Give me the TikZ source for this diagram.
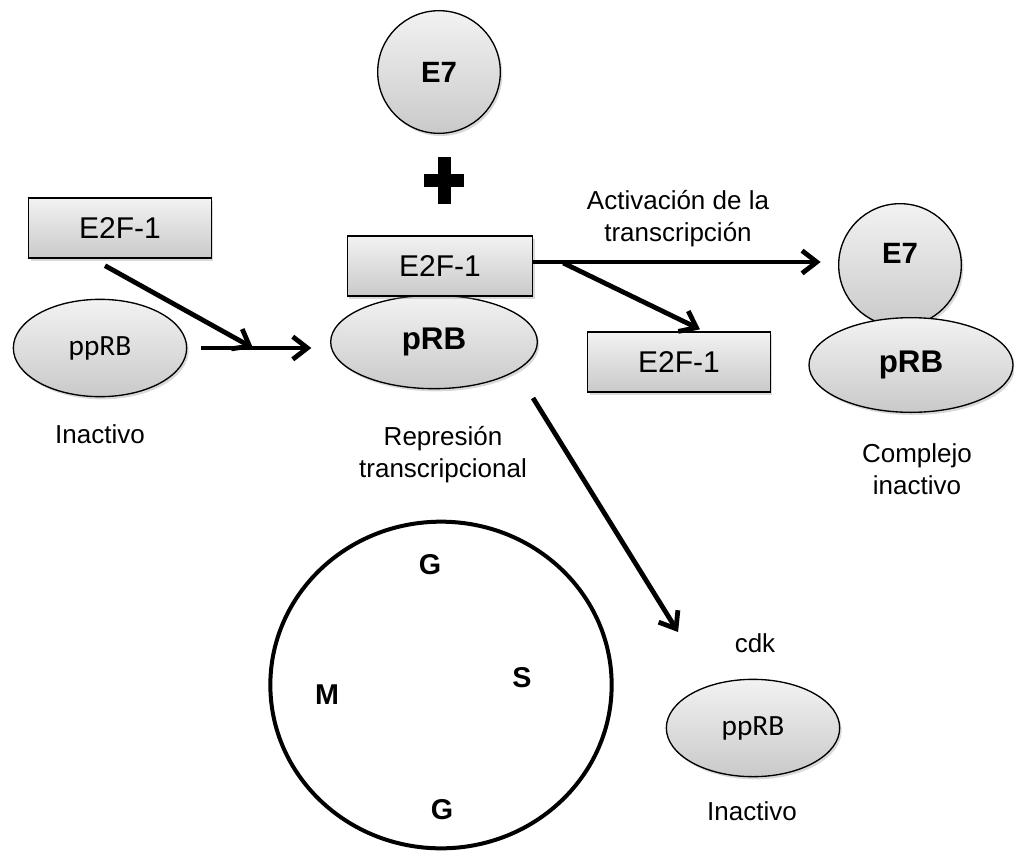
\documentclass[tikz,border=0pt]{standalone}
\usepackage{fontspec}
\setmainfont{Liberation Sans}
\newfontfamily\ppfont{Carlito}
\usetikzlibrary{shapes,arrows.meta,shadows,calc}
\tikzstyle{protbox} = [rectangle, draw, line width=1pt, top color=gray!10, bottom color=gray!42,
    minimum width=137pt, minimum height=45pt, inner sep=0pt,
    drop shadow={shadow xshift=1.5pt, shadow yshift=-2pt, opacity=0.3},
    font=\fontsize{22.5}{26}\selectfont]
\tikzstyle{prot} = [ellipse, draw, line width=1pt, top color=gray!10, bottom color=gray!42,
    inner sep=0pt, drop shadow={shadow xshift=1.5pt, shadow yshift=-2pt, opacity=0.3}]
\tikzstyle{arrow} = [draw, -{Straight Barb[length=11pt,width=17pt]}, line width=3.6pt]
\tikzstyle{lbl} = [font=\fontsize{19.5}{24}\selectfont, align=center]
\tikzstyle{phase} = [font=\bfseries\fontsize{21.5}{24}\selectfont]

\begin{document}
\begin{tikzpicture}[x=0.75pt, y=-0.75pt]
    \useasboundingbox (0,0) rectangle (1014,850);
    % Place nodes
    \node [prot, circle, minimum size=92pt, font=\bfseries\fontsize{22}{24}\selectfont] (E7top) at (439,72) {E7};
    \fill (424,174) rectangle (464,187);
    \fill (437.5,157) rectangle (450.5,204);
%
    \node [protbox] (e2fL) at (120,228) {E2F-1};
    \node [prot, minimum width=130pt, minimum height=73pt, font=\ppfont\fontsize{22}{24}\selectfont] (ppRBL) at (100,348) {ppRB};
    \node [lbl] (inactL) at (100,434) {Inactivo};
    \coordinate (joint) at (253,348);
%
    \node [prot, minimum width=155pt, minimum height=70pt, font=\bfseries\fontsize{23.5}{26}\selectfont] (pRB) at (434,342) {pRB};
    \node [protbox, minimum width=139pt] (e2fC) at (440,266) {E2F-1};
    \node [lbl] (repres) at (443,455) {Represión\\transcripcional};
    \node [lbl] (activ) at (678,219) {Activación de la\\transcripción};
%
    \node [prot, circle, minimum size=92pt, font=\bfseries\fontsize{22}{24}\selectfont, text height=16pt, text depth=18pt] (E7R) at (900,265) {E7};
    \node [prot, minimum width=153pt, minimum height=71pt, font=\bfseries\fontsize{23.5}{26}\selectfont] (pRBR) at (911,365) {pRB};
    \node [lbl] (complejo) at (917,469) {Complejo\\inactivo};
    \node [protbox] (e2fR) at (679,362) {E2F-1};
%
    \node [ellipse, draw, line width=3pt, minimum width=256pt, minimum height=245pt] (cycle) at (441,685) {};
    \node [phase] (G1) at (430,565) {G};
    \node [phase] (S) at (522,678) {S};
    \node [phase] (M) at (327,695) {M};
    \node [phase] (G2) at (442,810) {G};
%
    \node [lbl] (cdk) at (755,643) {cdk};
    \node [prot, minimum width=130pt, minimum height=73pt, font=\ppfont\fontsize{22}{24}\selectfont] (ppRBB) at (753,728) {ppRB};
    \node [lbl] (inactB) at (752,811) {Inactivo};
    % Connectors
    \path [arrow] ($(e2fL.south)+(-15,7)$) -- (joint);
    \path [arrow, shorten <=10pt, shorten >=14pt] (ppRBL.east) -- (ppRBL.east -| pRB.west);
    \path [arrow, shorten >=13pt] ([yshift=3pt]e2fC.east) -- ([yshift=3pt]e2fC.east -| E7R.west);
    \path [arrow] ($(e2fC.east)+(30,-3)$) -- ($(e2fR.north)+(21,-2)$);
    \path [arrow] ($(pRB)+(99,56)$) -- ($(cdk.west)+(-52,-11)$);
\end{tikzpicture}
\end{document}
